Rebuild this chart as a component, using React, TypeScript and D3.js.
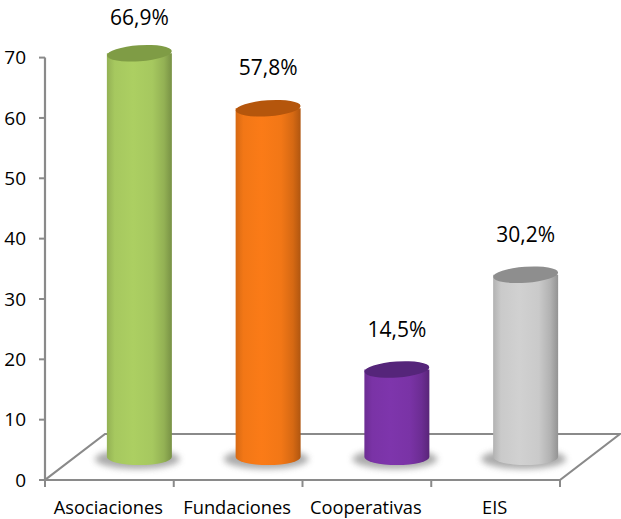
import React from "react";
import * as d3 from "d3";

const categories = ["Asociaciones", "Fundaciones", "Cooperativas", "EIS"];
const values = [66.9, 57.8, 14.5, 30.2];
const valueLabels = ["66,9%", "57,8%", "14,5%", "30,2%"];
const yTicks = [0, 10, 20, 30, 40, 50, 60, 70];
const baseColors = ["#a6c85f", "#f27716", "#7a33a6", "#cacaca"];
const topColors = ["#7f9c45", "#b5560c", "#55257a", "#8e8e8e"];

const W = 621;
const H = 519;
const axisX = 45;
const floorRight = 560;
const y0 = 480;
const yTop = 57.6;
const depthX = 60;
const depthY = -46;
const font = "'Open Sans', sans-serif";

export default function App() {
  const y = d3.scaleLinear().domain([0, 70]).range([y0, yTop]);
  const x = d3.scaleBand<string>().domain(categories).range([axisX, floorRight]).padding(0);
  const rx = 32.5;
  const ry = 8;
  const tilt = -4;

  const floor = [
    [axisX, y0],
    [floorRight, y0],
    [floorRight + depthX, y0 + depthY],
    [axisX + depthX, y0 + depthY],
  ];
  const floorPath = d3.line()(floor as [number, number][]) + "Z";

  return (
    <div style={{ position: "absolute", left: 0, top: 0, width: W, height: H, background: "#fff", overflow: "hidden" }}>
      <svg width={W} height={H} style={{ display: "block" }}>
        <defs>
          {baseColors.map((c, i) => {
            const col = d3.color(c)!;
            const dark = d3.color(c)!.darker(0.9).formatHex();
            const mid = d3.color(c)!.darker(0.35).formatHex();
            const light = d3.color(c)!.brighter(0.1).formatHex();
            return (
              <linearGradient id={`g${i}`} key={i} x1="0" x2="1" y1="0" y2="0">
                <stop offset="0%" stopColor={mid} />
                <stop offset="12%" stopColor={col.formatHex()} />
                <stop offset="40%" stopColor={light} />
                <stop offset="70%" stopColor={col.formatHex()} />
                <stop offset="88%" stopColor={mid} />
                <stop offset="100%" stopColor={dark} />
              </linearGradient>
            );
          })}
          <filter id="blur" x="-50%" y="-100%" width="200%" height="300%">
            <feGaussianBlur stdDeviation="3" />
          </filter>
        </defs>

        {/* floor */}
        <path d={floorPath} fill="none" stroke="#8a8a8a" strokeWidth={2.2} />
        {/* y axis */}
        <line x1={axisX} x2={axisX} y1={y(70)} y2={y0} stroke="#8a8a8a" strokeWidth={2.2} />
        {yTicks.map((t) => (
          <g key={t}>
            <line x1={axisX - 6} x2={axisX} y1={y(t)} y2={y(t)} stroke="#8a8a8a" strokeWidth={2} />
            <text
              x={26}
              y={y(t)}
              dy="0.36em"
              textAnchor="end"
              fontFamily={font}
              fontSize={19}
              fill="#000"
            >
              {t}
            </text>
          </g>
        ))}
        {/* x ticks */}
        {[...categories.map((c) => x(c)!), floorRight].map((px, i) => (
          <line key={i} x1={px} x2={px} y1={y0} y2={y0 + 7} stroke="#8a8a8a" strokeWidth={2} />
        ))}
        {categories.map((c) => (
          <text
            key={c}
            x={x(c)! + x.bandwidth() / 2 - 1}
            y={514}
            textAnchor="middle"
            fontFamily={font}
            fontSize={18.3}
            fill="#000"
          >
            {c}
          </text>
        ))}

        {/* cylinders */}
        {categories.map((c, i) => {
          const cx = x(c)! + x.bandwidth() / 2 + depthX / 2;
          const base = y(0) + depthY / 2;
          const top = y(values[i]) + depthY / 2;
          const body = `M${cx - rx},${top} L${cx - rx},${base} A${rx},${ry} 0 0 0 ${cx + rx},${base} L${cx + rx},${top} Z`;
          const labelY = Math.max(25, top - 33);
          return (
            <g key={c}>
              <ellipse
                cx={cx - 2}
                cy={base + 2}
                rx={rx + 10}
                ry={ry + 2}
                fill="#8f8f8f"
                opacity={0.75}
                filter="url(#blur)"
              />
              <path d={body} fill={`url(#g${i})`} />
              <ellipse
                cx={cx}
                cy={top}
                rx={rx}
                ry={ry}
                fill={topColors[i]}
                transform={`rotate(${tilt},${cx},${top})`}
              />
              <text
                x={cx}
                y={labelY}
                textAnchor="middle"
                fontFamily={font}
                fontSize={21}
                fill="#000"
              >
                {valueLabels[i]}
              </text>
            </g>
          );
        })}
      </svg>
    </div>
  );
}
